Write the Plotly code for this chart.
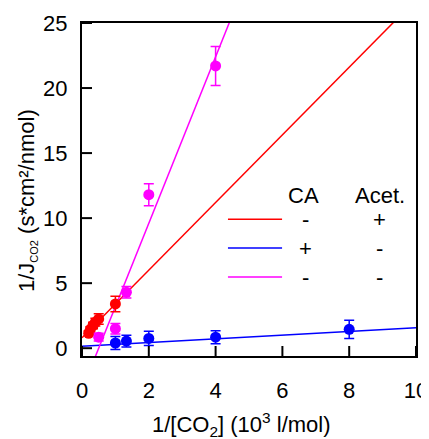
import plotly.graph_objects as go

# Data
red_x = [0.2, 0.25, 0.33, 0.4, 0.5, 1.0]
red_y = [1.15, 1.45, 1.75, 2.0, 2.25, 3.4]
red_err = [0.2, 0.2, 0.25, 0.3, 0.4, 0.6]

blue_x = [1.0, 1.33, 2.0, 4.0, 8.0]
blue_y = [0.4, 0.55, 0.75, 0.85, 1.45]
blue_err = [0.5, 0.45, 0.55, 0.5, 0.7]

mag_x = [0.5, 1.0, 1.33, 2.0, 4.0]
mag_y = [0.85, 1.5, 4.3, 11.8, 21.7]
mag_err = [0.3, 0.4, 0.45, 0.85, 1.5]

# linear fits: (intercept, slope)
red_fit = (0.8, 2.6)
blue_fit = (0.15, 0.143)
mag_fit = (-3.2, 6.4)

fit_x = [0, 10]

x_ticks = [0, 2, 4, 6, 8, 10]
y_ticks = [0, 5, 10, 15, 20, 25]

legend_header = ("CA", "Acet.")
legend_rows = [("-", "+"), ("+", "-"), ("-", "-")]
colors = ["#ff0000", "#0000ff", "#ff00ff"]

FAM = "Liberation Sans, Arial, sans-serif"

fig = go.Figure()

for fit, c in zip([red_fit, blue_fit, mag_fit], colors):
    fig.add_trace(go.Scatter(x=fit_x, y=[fit[0] + fit[1] * v for v in fit_x],
                             mode="lines", line=dict(color=c, width=1.5),
                             showlegend=False, hoverinfo="skip"))

for xs, ys, es, c in [(red_x, red_y, red_err, colors[0]),
                      (mag_x, mag_y, mag_err, colors[2]),
                      (blue_x, blue_y, blue_err, colors[1])]:
    fig.add_trace(go.Scatter(x=xs, y=ys, mode="markers",
                             marker=dict(color=c, size=11),
                             error_y=dict(type="data", array=es, color=c,
                                          thickness=1.5, width=5),
                             showlegend=False))

axis_common = dict(ticks="", showline=True, linewidth=2, linecolor="black",
                   mirror=True, showgrid=False, zeroline=False, automargin=False,
                   tickfont=dict(family=FAM, size=22, color="black"))

# page body has an 8px margin, so the figure is 8px smaller to fit the window
fig.update_layout(
    width=421, height=431,
    margin=dict(l=74, r=13, t=15, b=83, autoexpand=False),
    paper_bgcolor="white", plot_bgcolor="white",
    font=dict(family=FAM, size=22, color="black"),
    xaxis=dict(range=[0, 10], tickmode="array", tickvals=x_ticks,
               ticklabelstandoff=14, **axis_common),
    yaxis=dict(range=[-0.6, 25], tickmode="array", tickvals=y_ticks,
               ticklabelstandoff=8, **axis_common),
)

# inside tick marks (10 px long), placed at the tick values
TICK_X = 10 / 333
TICK_Y = 10 / 334
for v in x_ticks:
    fig.add_shape(type="line", xref="x", yref="paper", x0=v, x1=v, y0=0, y1=TICK_X,
                  line=dict(color="black", width=2), layer="above")
for v in y_ticks:
    fig.add_shape(type="line", xref="paper", yref="y", x0=0, x1=TICK_Y, y0=v, y1=v,
                  line=dict(color="black", width=2), layer="above")

# Axis titles
fig.add_annotation(xref="paper", yref="paper", x=0.479, y=-0.205,
                   xanchor="center", yanchor="middle", showarrow=False,
                   text="1/[CO<sub>2</sub>] (10<sup>3</sup> l/mol)",
                   font=dict(family=FAM, size=22, color="black"))
fig.add_annotation(xref="paper", yref="paper", x=-0.165, y=0.468,
                   xanchor="center", yanchor="middle", showarrow=False,
                   textangle=-90,
                   text="1/J<sub><span style='font-size:11px'>CO2</span></sub> (s*cm²/nmol)",
                   font=dict(family=FAM, size=22, color="black"))

# Legend (table style)
row_y = [0.411, 0.324, 0.237]
for (ca, acet), c, yy in zip(legend_rows, colors, row_y):
    fig.add_shape(type="line", xref="paper", yref="paper",
                  x0=0.437, x1=0.599, y0=yy, y1=yy,
                  line=dict(color=c, width=1.5))
    fig.add_annotation(xref="paper", yref="paper", x=0.668, y=yy, text=ca,
                       xanchor="center", yanchor="middle",
                       showarrow=False, font=dict(family=FAM, size=22))
    fig.add_annotation(xref="paper", yref="paper", x=0.892, y=yy, text=acet,
                       xanchor="center", yanchor="middle",
                       showarrow=False, font=dict(family=FAM, size=22))
fig.add_annotation(xref="paper", yref="paper", x=0.662, y=0.483, text=legend_header[0],
                   xanchor="center", yanchor="middle",
                   showarrow=False, font=dict(family=FAM, size=22))
fig.add_annotation(xref="paper", yref="paper", x=0.892, y=0.483, text=legend_header[1],
                   xanchor="center", yanchor="middle",
                   showarrow=False, font=dict(family=FAM, size=22))

fig.write_html("out.html")
